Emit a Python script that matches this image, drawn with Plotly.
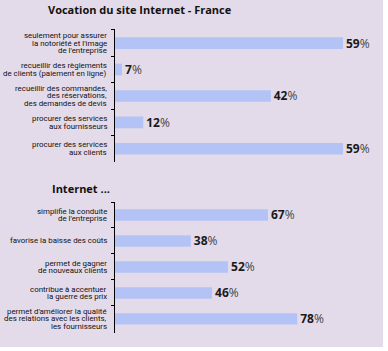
import plotly.graph_objects as go

# ---- data ----
title_top = "Vocation du site Internet - France"
title_bottom = "Internet ..."

cats_top = [
    "seulement pour assurer<br>la notoriété et l'image<br>de l'entreprise",
    "recueillir des règlements<br>de clients (paiement en ligne)",
    "recueillir des commandes,<br>des réservations,<br>des demandes de devis",
    "procurer des services<br>aux fournisseurs",
    "procurer des services<br>aux clients",
]
vals_top = [59, 7, 42, 12, 59]

cats_bottom = [
    "simplifie la conduite<br>de l'entreprise",
    "favorise la baisse des coûts",
    "permet de gagner<br>de nouveaux clients",
    "contribue à accentuer<br>la guerre des prix",
    "permet d'améliorer la qualité<br>des relations avec les clients,<br>les fournisseurs",
]
vals_bottom = [67, 38, 52, 46, 78]

# ---- style ----
BG = "#e3dbea"
BAR = "#b3c3f5"
W, H = 388, 351
LINE_H = 7.6
label_font = dict(family="Roboto, sans-serif", size=7.9, color="#111")
val_tpl = "<b>%{x}</b><span style='font-weight:normal;color:#444'>%</span>"

fig = go.Figure()
for cats, vals, xa, ya in [(cats_top, vals_top, "x", "y"), (cats_bottom, vals_bottom, "x2", "y2")]:
    fig.add_trace(go.Bar(
        y=cats, x=vals, orientation="h", marker=dict(color=BAR, line=dict(width=0)),
        width=0.44, xaxis=xa, yaxis=ya, texttemplate=val_tpl, textposition="outside",
        constraintext="none",
        textfont=dict(family="Open Sans", size=12, color="#1a1a1a"), cliponaxis=False,
    ))

x0 = 115 / W
hidden_x = dict(showgrid=False, zeroline=False, showline=False, showticklabels=False, ticks="")
ycommon = dict(showgrid=False, zeroline=False, showline=True, linecolor="#000", linewidth=1,
               ticks="outside", tickson="boundaries", ticklen=3, tickcolor="#000",
               showticklabels=False, autorange="reversed", type="category")

annotations = [
    dict(text=f"<b>{title_top}</b>", xref="paper", yref="paper", x=140 / W, y=1 - 9 / H,
         xanchor="center", yanchor="middle", showarrow=False,
         font=dict(family="Open Sans", size=11, color="#111")),
    dict(text=f"<b>{title_bottom}</b>", xref="paper", yref="paper", x=50 / W, y=1 - 188 / H,
         xanchor="left", yanchor="middle", showarrow=False,
         font=dict(family="Open Sans", size=11, color="#111")),
]
# category labels, one line at a time for tight leading
for cats, ya in [(cats_top, "y"), (cats_bottom, "y2")]:
    for c in cats:
        lines = c.split("<br>")
        n = len(lines)
        for i, ln in enumerate(lines):
            annotations.append(dict(
                text=ln, xref="paper", yref=ya, x=109 / W, y=c, xanchor="right", yanchor="middle",
                yshift=((n - 1) / 2 - i) * LINE_H, showarrow=False, font=label_font,
            ))

fig.update_layout(
    width=W, height=H, autosize=False, margin=dict(l=0, r=0, t=0, b=0),
    paper_bgcolor="white", plot_bgcolor="rgba(0,0,0,0)", showlegend=False,
    xaxis=dict(domain=[x0, 1], range=[5.35, 5.35 + (W - 115) / 4.25], anchor="y", **hidden_x),
    yaxis=dict(domain=[1 - 162 / H, 1 - 29 / H], anchor="x", **ycommon),
    xaxis2=dict(domain=[x0, 1], range=[9.5, 9.5 + (W - 115) / 2.66], anchor="y2", **hidden_x),
    yaxis2=dict(domain=[1 - 333 / H, 1 - 202 / H], anchor="x2", **ycommon),
    shapes=[dict(type="rect", xref="paper", yref="paper", x0=0, x1=383 / W, y0=1 - 347 / H, y1=1,
                 fillcolor=BG, line=dict(width=0), layer="below")],
    annotations=annotations,
)

fig.write_html("out.html")
